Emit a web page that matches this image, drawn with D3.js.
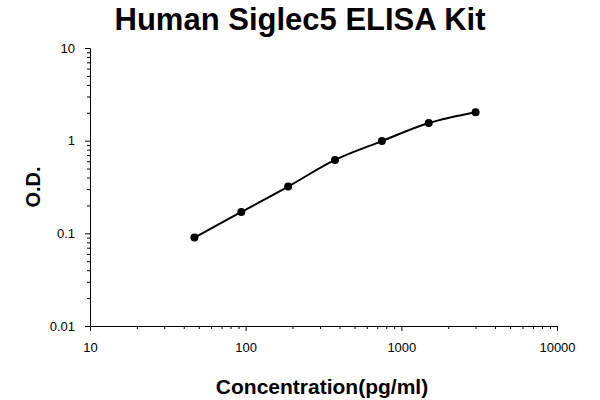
<!DOCTYPE html><html><head><script src="https://d3js.org/d3.v7.min.js"></script>
<style>body{margin:0;background:#fff}text{font-family:Arial,"Liberation Sans",sans-serif}</style></head><body>
<script>
const conc=[46.875,93.75,187.5,375,750,1500,3000];
const od=[0.09,0.17,0.32,0.62,0.99,1.55,2.03];
const xTicks=[10,100,1000,10000];
const yTicks=[0.01,0.1,1,10];
const svg=d3.select("body").append("svg").attr("width",600).attr("height",400);
const x=d3.scaleLog().domain([10,10000]).range([90,557]);
const y=d3.scaleLog().domain([0.01,10]).range([326,48]);
const minorX=[],minorY=[];
[10,100,1000].forEach(d=>{for(let k=2;k<10;k++)minorX.push(d*k)});
[0.01,0.1,1].forEach(d=>{for(let k=2;k<10;k++)minorY.push(d*k)});
svg.append("g").attr("transform","translate(0,326)").call(d3.axisBottom(x).tickValues(xTicks).tickFormat(d3.format("d")).tickSize(5).tickPadding(12))
 .call(g=>g.selectAll("text").attr("font-size",13).attr("fill","#000"));
svg.append("g").attr("transform","translate(0,326)").call(d3.axisBottom(x).tickValues(minorX).tickFormat("").tickSize(3)).call(g=>g.select(".domain").remove());
svg.append("g").attr("transform","translate(90,0)").call(d3.axisLeft(y).tickValues(yTicks).tickFormat(d=>String(d)).tickSize(5).tickPadding(10))
 .call(g=>g.selectAll("text").attr("font-size",13).attr("fill","#000"));
svg.append("g").attr("transform","translate(90,0)").call(d3.axisLeft(y).tickValues(minorY).tickFormat("").tickSize(3)).call(g=>g.select(".domain").remove());
svg.selectAll(".domain").attr("stroke","#000");
const data=conc.map((c,i)=>[c,od[i]]);
svg.append("path").datum(data).attr("fill","none").attr("stroke","#000").attr("stroke-width",2)
 .attr("d",d3.line().x(d=>x(d[0])).y(d=>y(d[1])).curve(d3.curveMonotoneX));
svg.selectAll("circle").data(data).join("circle").attr("cx",d=>x(d[0])).attr("cy",d=>y(d[1])).attr("r",4).attr("fill","#000");
svg.append("text").attr("x",300).attr("y",30).attr("text-anchor","middle").attr("font-size",31).attr("font-weight","bold").text("Human Siglec5 ELISA Kit");
svg.append("text").attr("x",322).attr("y",394).attr("text-anchor","middle").attr("font-size",21).attr("font-weight","bold").text("Concentration(pg/ml)");
svg.append("text").attr("transform","translate(40,187) rotate(-90)").attr("text-anchor","middle").attr("font-size",20).attr("font-weight","bold").text("O.D.");
</script></body></html>
